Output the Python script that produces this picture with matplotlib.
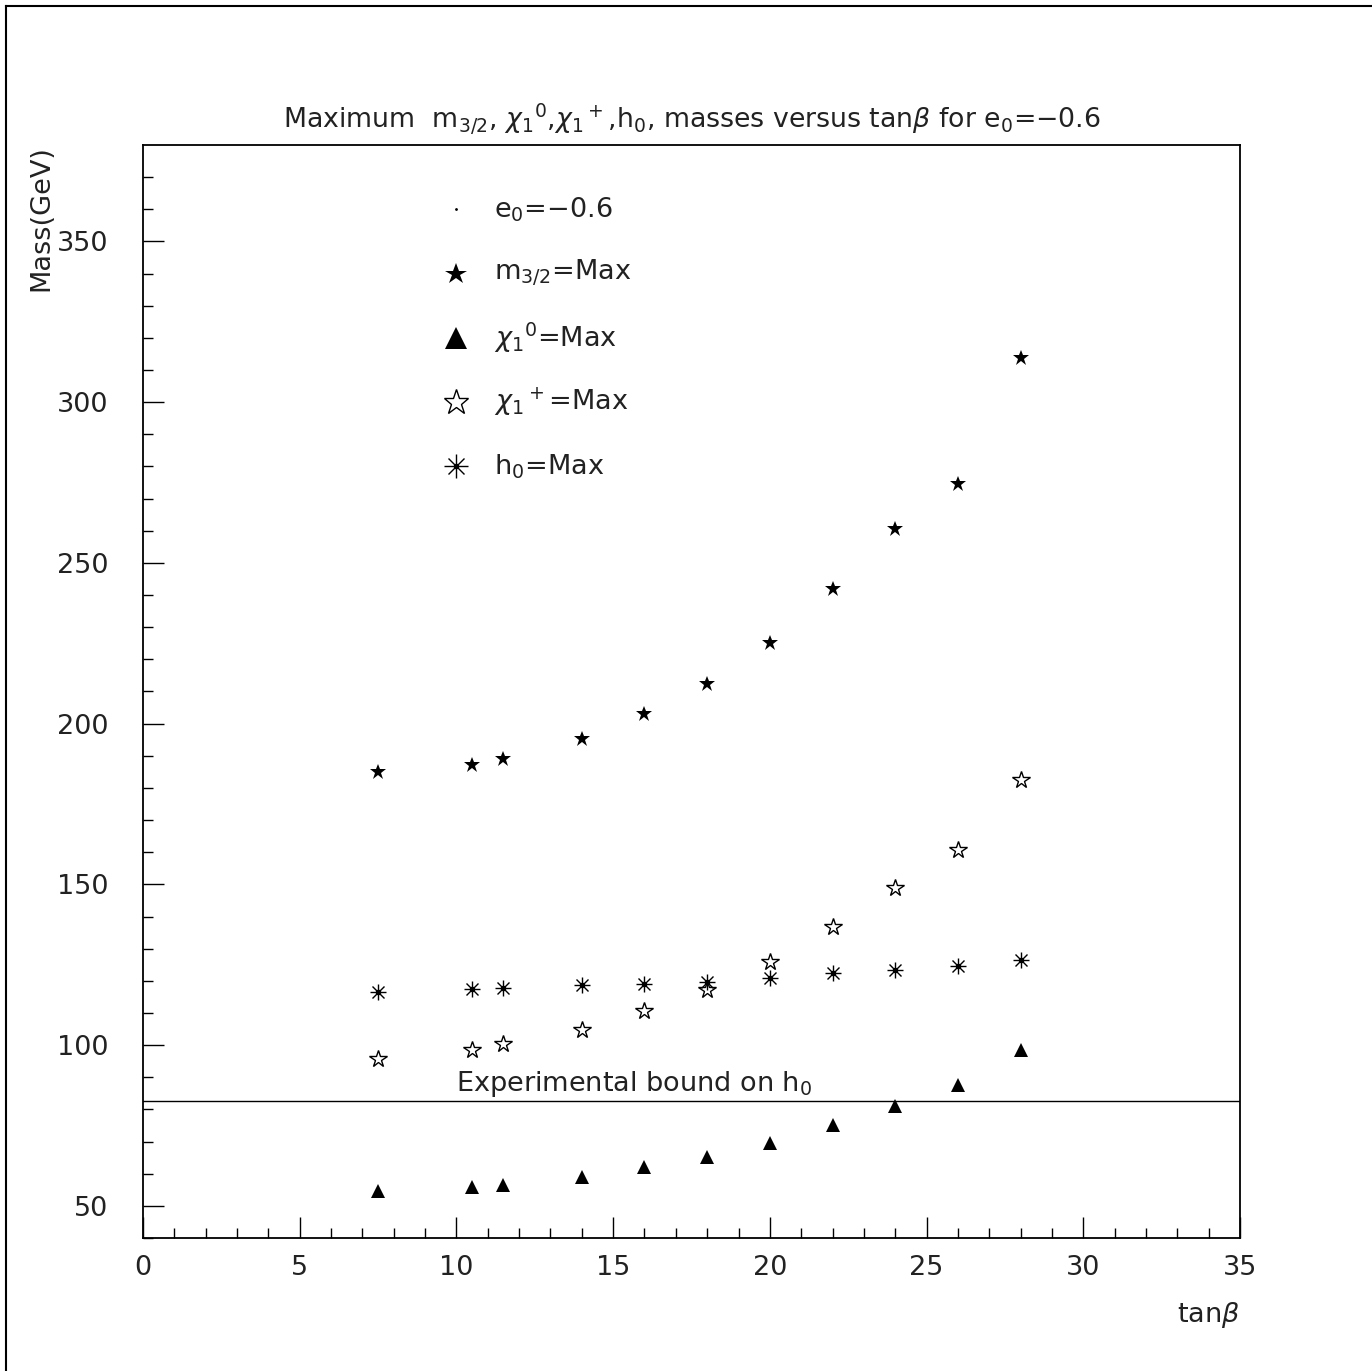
import numpy as np
import matplotlib
matplotlib.use("Agg")
import matplotlib.pyplot as plt
from matplotlib.lines import Line2D

# donnees
tanb = [7.5, 10.5, 11.5, 14, 16, 18, 20, 22, 24, 26, 28]
m32 = [185.1, 187.2, 189.1, 195.3, 203.1, 212.2, 225.2, 242.0, 260.4, 274.4, 313.6]
chi10 = [54.7, 55.9, 56.5, 59.0, 62.1, 65.3, 69.6, 75.2, 81.1, 87.7, 98.6]
chi1p = [95.8, 98.6, 100.4, 104.8, 110.7, 117.2, 125.9, 136.8, 149.0, 160.8, 182.6]
h0 = [116.6, 117.5, 117.8, 118.8, 119.1, 119.7, 121.0, 122.5, 123.5, 124.7, 126.6]
borne_h0 = 82.7

legende_labels = [r"e$_0$=$-$0.6", r"m$_{3/2}$=Max", r"$\chi_1$$^0$=Max",
                  r"$\chi_1$$^+$=Max", r"h$_0$=Max"]
legende_y = [360, 340, 320, 300, 280]

plt.rcParams['font.family'] = ['DejaVu Sans']
plt.rcParams['mathtext.fontset'] = 'dejavusans'

fig = plt.figure(figsize=(13.72, 13.71), dpi=100)
ax = fig.add_axes([143/1372, 1 - 1238/1371, (1240-143)/1372, (1238-145)/1371])

styles = [
    dict(marker='.', markersize=2, color='k'),
    dict(marker='*', markersize=12, color='k', markeredgewidth=0),
    dict(marker='^', markersize=10, color='k', markeredgewidth=0),
    dict(marker='*', markersize=13, markerfacecolor='none', markeredgecolor='k', markeredgewidth=1),
]
# marqueurs un peu plus gros dans la legende
echelle_leg = [1.0, 1.35, 1.6, 1.45, 1.4]

def asterisque(x, y, taille=12):
    ax.plot(x, y, linestyle='none', marker='+', markersize=taille, color='k', markeredgewidth=1)
    ax.plot(x, y, linestyle='none', marker='x', markersize=taille*0.72, color='k', markeredgewidth=1)
    ax.plot(x, y, linestyle='none', marker='o', markersize=3, color='k')

ax.plot(tanb, m32, linestyle='none', **styles[1])
ax.plot(tanb, chi10, linestyle='none', **styles[2])
ax.plot(tanb, chi1p, linestyle='none', **styles[3])
asterisque(tanb, h0)

ax.axhline(borne_h0, color='k', linewidth=1)
ax.text(10.0, borne_h0 + 0.6, r"Experimental bound on h$_0$", fontsize=19.5,
        color='#222222', va='bottom', ha='left')

# legende faite a la main
for i, (lab, yl) in enumerate(zip(legende_labels, legende_y)):
    if i == 4:
        asterisque([10.0], [yl], taille=12 * echelle_leg[i])
    else:
        st = dict(styles[i])
        st['markersize'] = st['markersize'] * echelle_leg[i]
        ax.plot([10.0], [yl], linestyle='none', **st)
    ax.text(11.2, yl, lab, fontsize=19.5, color='#222222', va='center', ha='left')

ax.set_xlim(0, 35)
ax.set_ylim(40, 380)
ax.set_xticks(np.arange(0, 36, 5))
ax.set_xticks(np.arange(0, 36, 1), minor=True)
ax.set_yticks(np.arange(50, 351, 50))
ax.set_yticks(np.arange(40, 371, 10), minor=True)
ax.tick_params(which='both', direction='in', top=False, right=False,
               labelsize=19.5, labelcolor='#222222', width=1)
ax.tick_params(axis='x', which='major', length=15, pad=12)
ax.tick_params(axis='x', which='minor', length=7)
ax.tick_params(axis='y', which='major', length=15, pad=25)
ax.tick_params(axis='y', which='minor', length=7)
for s in ax.spines.values():
    s.set_linewidth(1.3)

ax.set_title(r"Maximum  m$_{3/2}$, $\chi_1$$^0$,$\chi_1$$^+$,h$_0$, masses versus tan$\beta$ for e$_0$=$-$0.6",
             fontsize=19.3, color='#222222', pad=12)
ax.text(1.0, -0.07, r"tan$\beta$", transform=ax.transAxes, ha='right', va='center',
        fontsize=19.5, color='#222222')
ax.text(-0.093, 1.0, "Mass(GeV)", transform=ax.transAxes, rotation=90, ha='center',
        va='top', fontsize=19.5, color='#222222')

# cadre exterieur (haut et gauche)
fig.add_artist(Line2D([6/1372, 6/1372], [0, 1 - 6/1371], color='k', linewidth=1.5))
fig.add_artist(Line2D([6/1372, 1], [1 - 6/1371, 1 - 6/1371], color='k', linewidth=1.5))

fig.savefig("out.png", dpi=100)
